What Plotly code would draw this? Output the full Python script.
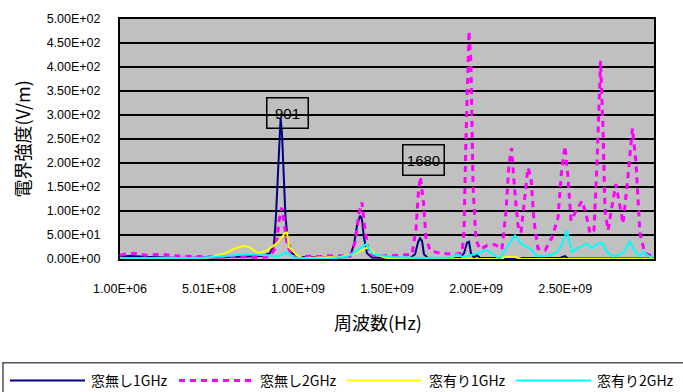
import plotly.graph_objects as go

# ---- data (frequency in MHz, field strength in V/m) ----
nav1_f = [1, 57, 169, 338, 506, 675, 798, 843, 866, 877, 888, 897, 903, 911, 919, 930, 944, 967, 1012,
          1124, 1236, 1293, 1315, 1332, 1349, 1360, 1371, 1388, 1416, 1518, 1630, 1658, 1675, 1686, 1697,
          1708, 1731, 1910, 1933, 1950, 1961, 1972, 1989, 2006, 2023, 2247, 2472, 2500, 2517, 3000]
nav1_v = [5, 6, 4, 2, 3, 4, 6, 12, 30, 90, 190, 270, 294, 260, 180, 90, 35, 12, 4,
          3, 3, 6, 30, 70, 90, 82, 45, 12, 3, 2, 2, 10, 35, 43, 38,
          10, 2, 2, 12, 34, 36, 12, 3, 8, 2, 2, 2, 6, 1, 1]

nav2_f = [1, 29, 85, 141, 226, 338, 450, 563, 675, 759, 798, 843, 877, 894, 909, 922, 939, 967, 1012,
          1068, 1124, 1180, 1236, 1293, 1321, 1343, 1360, 1377, 1399, 1461, 1573, 1641, 1663, 1677, 1688,
          1705, 1719, 1742, 1798, 1882, 1922, 1933, 1944, 1956, 1961, 1972, 1984, 2000, 2023, 2062, 2107,
          2146, 2169, 2186, 2200, 2214, 2236, 2253, 2270, 2292, 2309, 2326, 2348, 2388, 2427, 2461, 2480,
          2500, 2517, 2534, 2562, 2596, 2618, 2641, 2663, 2680, 2700, 2713, 2725, 2742, 2764, 2786, 2809,
          2826, 2848, 2879, 2899, 2921, 2949, 3000]
nav2_v = [8, 10, 12, 8, 10, 6, 5, 4, 5, 4, 2, 6, 25, 80, 107, 80, 30, 8, 3,
          6, 5, 7, 6, 6, 35, 95, 118, 60, 10, 6, 8, 10, 60, 140, 171,
          120, 45, 18, 12, 10, 12, 60, 250, 440, 475, 410, 150, 40, 20, 28, 30,
          20, 100, 200, 231, 160, 70, 55, 120, 190, 170, 80, 22, 18, 45, 86, 180,
          235, 170, 80, 100, 121, 95, 53, 60, 200, 413, 280, 100, 60, 110, 156, 110,
          74, 150, 272, 200, 53, 12, 4]

win1_f = [1, 430, 506, 591, 647, 692, 731, 776, 827, 883, 928, 939, 950, 995, 1029, 1124, 1236, 1304,
          1360, 1394, 1433, 1489, 1534, 2135, 2163, 2219, 2258, 3000]
win1_v = [0, 0, 3, 12, 22, 27, 24, 12, 18, 33, 54, 55, 25, 8, 2, 3, 4, 10,
          18, 25, 10, 3, 0, 0, 4, 4, 0, 0]

win2_f = [1, 450, 563, 714, 827, 888, 937, 972, 1068, 1164, 1276, 1326, 1383, 1422, 1518, 1686, 1871,
          1894, 1927, 1967, 2012, 2060, 2096, 2135, 2174, 2219, 2258, 2303, 2343, 2399, 2450, 2483, 2511,
          2539, 2567, 2623, 2651, 2685, 2707, 2736, 2770, 2826, 2865, 2888, 2921, 2938, 2989]
win2_v = [2, 2, 5, 10, 8, 5, 14, 3, 1, 0, 5, 15, 31, 10, 4, 2, 3,
          10, 4, 8, 12, 19, 10, 0, 25, 49, 30, 22, 6, 7, 12, 30, 59,
          14, 22, 32, 22, 33, 34, 15, 5, 12, 37, 18, 5, 15, 1]

series_names = ["窓無し1GHz", "窓無し2GHz", "窓有り1GHz", "窓有り2GHz"]
series_colors = ["#000080", "#FF00FF", "#FFFF00", "#00FFFF"]

x_tick_vals_mhz = [1, 501, 1001, 1501, 2001, 2501]
y_tick_vals = [0, 50, 100, 150, 200, 250, 300, 350, 400, 450, 500]

callouts = [("901", 939, 304.6), ("1680", 1708, 206.4)]

# ---- layout geometry ----
W, H = 683, 392
L, R, T, B = 120, 29, 16, 133
PW, PH = W - L - R, H - T - B


def px(xp):
    return (xp - L) / PW


def py(yp):
    return (H - B - yp) / PH


MHZ = 1e6
fig = go.Figure()
series = [(nav1_f, nav1_v), (nav2_f, nav2_v), (win1_f, win1_v), (win2_f, win2_v)]
styles = [dict(width=2), dict(width=3, dash="6px,5px"), dict(width=2), dict(width=2)]
for (f, v), name, col, st in zip(series, series_names, series_colors, styles):
    fig.add_trace(go.Scatter(x=[q * MHZ for q in f], y=v, mode="lines", name=name,
                             line=dict(color=col, **st), showlegend=False))

tick_font = dict(family="Liberation Sans, Arial, sans-serif", size=12.5, color="#000")
cjk = "Noto Sans CJK JP, sans-serif"

fig.update_layout(
    width=W, height=H,
    margin=dict(l=L, r=R, t=T, b=B),
    paper_bgcolor="white",
    plot_bgcolor="#C0C0C0",
    xaxis=dict(range=[1 * MHZ, 3000 * MHZ], tickvals=[q * MHZ for q in x_tick_vals_mhz],
               ticktext=[f"{q * MHZ:.2E}" for q in x_tick_vals_mhz],
               showgrid=False, zeroline=False, showline=True, linecolor="black", linewidth=2,
               mirror=True, ticks="", tickfont=tick_font, ticklabelstandoff=17,
               layer="below traces"),
    yaxis=dict(range=[0, 500], tickvals=y_tick_vals, ticktext=[f"{v:.2E}" for v in y_tick_vals],
               showgrid=True, gridcolor="black", gridwidth=1.5, zeroline=False,
               showline=True, linecolor="black", linewidth=2, mirror=True, ticks="",
               tickfont=tick_font, ticklabelstandoff=15, layer="below traces"),
)

annotations = []
for txt, xv, yv in callouts:
    annotations.append(dict(x=xv * MHZ, y=yv, xref="x", yref="y", text=txt, showarrow=False,
                            font=dict(family="Liberation Sans, Arial, sans-serif", size=15, color="#000"),
                            bordercolor="black", borderwidth=1.5, borderpad=0,
                            width=40, height=29, xanchor="center", yanchor="middle"))

annotations.append(dict(x=px(378), y=py(323), xref="paper", yref="paper", text="周波数(Hz)",
                        showarrow=False, font=dict(family=cjk, size=18, color="#000"),
                        xanchor="center", yanchor="middle"))
annotations.append(dict(x=px(22), y=py(138), xref="paper", yref="paper", text="電界強度(V/m)",
                        showarrow=False, textangle=-90, font=dict(family=cjk, size=18, color="#000"),
                        xanchor="center", yanchor="middle"))

shapes = [dict(type="rect", xref="paper", yref="paper", x0=px(3), x1=px(700), y0=py(364), y1=py(402),
               line=dict(color="#505050", width=1.5), fillcolor="rgba(0,0,0,0)")]

leg_lines = [(10, 85), (179, 253), (347, 422), (516, 591)]
leg_text_x = [89, 258, 427, 595]
leg_y = 382
for (a, b), tx, name, col, st in zip(leg_lines, leg_text_x, series_names, series_colors, styles):
    shapes.append(dict(type="line", xref="paper", yref="paper", x0=px(a), x1=px(b), y0=py(leg_y), y1=py(leg_y),
                       line=dict(color=col, width=st["width"], dash=st.get("dash", "solid"))))
    annotations.append(dict(x=px(tx), y=py(leg_y), xref="paper", yref="paper", text=name, showarrow=False,
                            font=dict(family=cjk, size=14, color="#000"), xanchor="left", yanchor="middle"))

fig.update_layout(annotations=annotations, shapes=shapes)
fig.write_html("out.html", config={"displayModeBar": False},
               post_script="document.documentElement.style.margin='0';document.body.style.margin='0';"
                           "document.body.style.overflow='hidden';")
